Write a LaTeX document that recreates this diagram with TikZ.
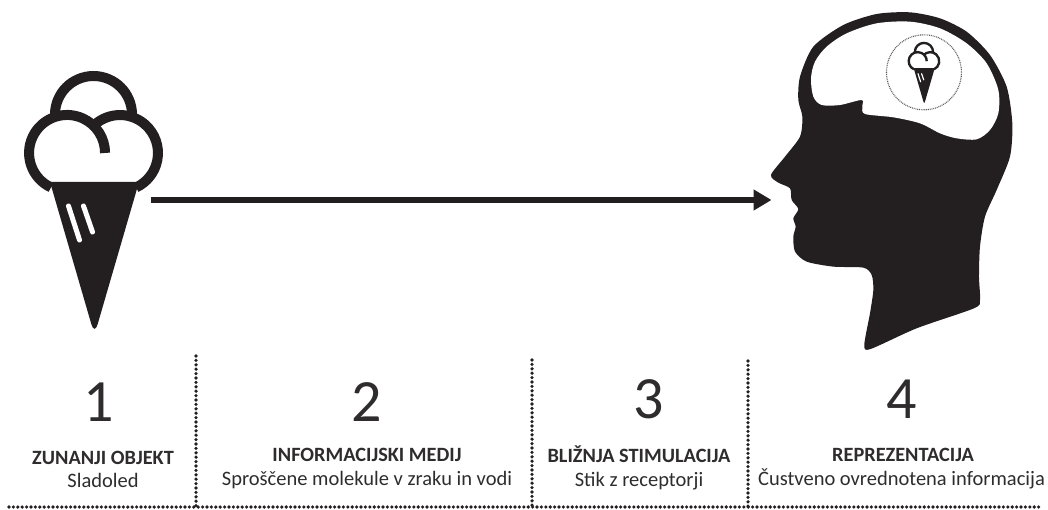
\documentclass[tikz,border=0pt]{standalone}
\usepackage{fontspec}
\setmainfont{Carlito}
\usetikzlibrary{arrows.meta}
\definecolor{ink}{HTML}{231F20}
\definecolor{txt}{HTML}{2E2C2D}
\tikzset{
  numlabel/.style={anchor=base,inner sep=0pt,text=txt,font=\fontsize{60}{62}\selectfont},
  headlabel/.style={anchor=base,inner sep=0pt,text=txt,font=\fontsize{20.3}{23}\selectfont\bfseries},
  sublabel/.style={anchor=base,inner sep=0pt,text=txt,font=\fontsize{20.5}{23}\selectfont},
  dotline/.style={draw=ink,line width=3.6pt,line cap=round,dash pattern=on 0pt off 4.4pt},
  flow/.style={draw=ink,line width=6.5pt,-{Triangle[length=18pt,width=20pt]}}
}
\newcommand{\conicon}[3]{%
  \begin{scope}[shift={(#1,#2)},x=#3pt,y=-#3pt]
    \draw[ink,line width=10*#3pt] (55,114.5) arc[start angle=180,end angle=360,radius=38.5];
    \begin{scope}
      \clip (0,60) rectangle (200,182);
      \fill[white] (67,153) circle[radius=38];
      \fill[white] (120,153) circle[radius=38];
      \fill[white] (67,140) rectangle (120,182);
    \end{scope}
    \draw[ink,line width=10*#3pt] (91.3,128.1) arc[start angle=221,end angle=425,radius=38];
    \draw[ink,line width=10*#3pt] (51,187.4) arc[start angle=115,end angle=360,radius=38];
    \fill[ink] (50,182) -- (139,182) [rounded corners=11*#3pt] -- (94.5,335) [sharp corners] -- cycle;
    \draw[white,line width=5*#3pt,line cap=round] (68.5,206) -- (79.5,240);
    \draw[white,line width=5*#3pt,line cap=round] (83.5,206) -- (92.5,232);
  \end{scope}}
\begin{document}
\begin{tikzpicture}[x=1pt,y=-1pt]
\useasboundingbox (0,0) rectangle (1048,510);
% ice cream
\conicon{0}{0}{1}
\coordinate (src) at (151,200);
\coordinate (nose) at (771.5,200);
% head
\begin{scope}[shift={(750,0)},x=0.3333pt,y=-0.3333pt]
  \fill[ink] plot[smooth cycle,tension=0.45] coordinates {
    (63,525) (105,470) (150,410) (157,350) (145,300) (150,230) (190,140) (280,75) (380,42) (480,37)
    (570,55) (650,95) (720,165) (770,260) (787,370) (780,470) (740,570) (705,650) (690,740)
    (687,830) (690,900) (672,925) (500,985) (362,1047) (343,1035) (360,940) (370,870) (365,825)
    (340,803) (250,800) (170,785) (135,755) (130,710) (137,680) (130,655) (145,627) (125,600)
    (120,565) (85,548)};
  \fill[white] plot[smooth cycle,tension=0.5] coordinates {
    (183,235) (195,185) (230,140) (290,100) (380,70) (480,65) (570,85) (650,130) (710,190)
    (745,270) (745,340) (720,390) (680,418) (620,415) (570,400) (510,370) (430,352) (345,342)
    (337,320) (335,300) (270,315) (215,315) (190,290)};
  \coordinate (brain) at (522,217);
\end{scope}
\draw[ink!75,line width=1.1pt,dash pattern=on 0.9pt off 0.9pt] (brain) circle[radius=37.5];
\conicon{901.8}{24.9}{0.237}
% connector
\draw[flow] (src) -- (nose);
% dotted rules
\coordinate (hl) at (9,507); \coordinate (hr) at (1040,507);
\coordinate (a1) at (196,356); \coordinate (a2) at (196,509);
\coordinate (b1) at (532,360); \coordinate (b2) at (532,509);
\coordinate (c1) at (748,361); \coordinate (c2) at (748,509);
\draw[dotline] (hl) -- (hr);
\draw[dotline] (a1) -- (a2);
\draw[dotline] (b1) -- (b2);
\draw[dotline] (c1) -- (c2);
% labels
\node[numlabel] (n1) at (99,421.5) {1};
\node[numlabel] (n2) at (367,421.5) {2};
\node[numlabel] (n3) at (649,418.5) {3};
\node[numlabel] (n4) at (902,418.5) {4};
\node[headlabel] (h1) at (103,464) {ZUNANJI OBJEKT};
\node[sublabel] (s1) at (103,487.5) {Sladoled};
\node[headlabel] (h2) at (367,461) {INFORMACIJSKI MEDIJ};
\node[sublabel] (s2) at (367,485) {Sproščene molekule v zraku in vodi};
\node[headlabel] (h3) at (639,462) {BLIŽNJA STIMULACIJA};
\node[sublabel] (s3) at (639,486) {Stik z receptorji};
\node[headlabel] (h4) at (903,461) {REPREZENTACIJA};
\node[sublabel] (s4) at (901.5,485) {Čustveno ovrednotena informacija};
\end{tikzpicture}
\end{document}
